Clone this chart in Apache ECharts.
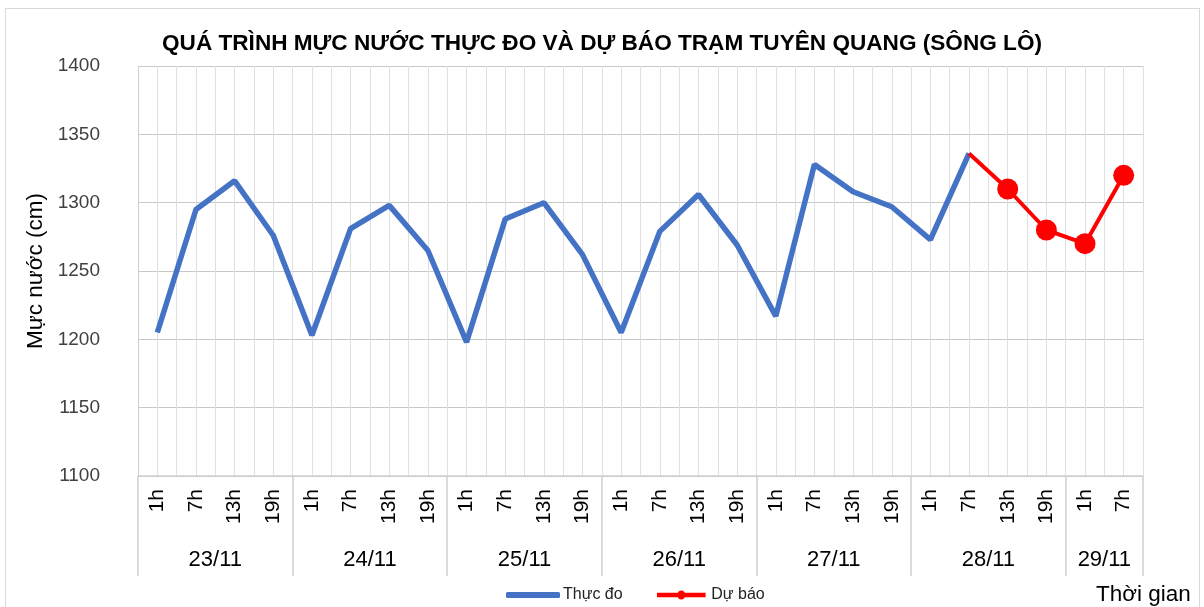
<!DOCTYPE html>
<html><head><meta charset="utf-8">
<script src="https://cdn.jsdelivr.net/npm/echarts@6/dist/echarts.min.js"></script>
<style>
html,body{margin:0;padding:0;background:#fff;}
#frame{position:absolute;left:5px;top:8px;width:1195px;height:620px;border:1px solid #d9d9d9;box-sizing:border-box;}
#main{position:absolute;left:0;top:0;width:1204px;height:607px;}
</style></head>
<body><div id="frame"></div><div id="main"></div>
<script>
const titleText = 'QUÁ TRÌNH MỰC NƯỚC THỰC ĐO VÀ DỰ BÁO TRẠM TUYÊN QUANG (SÔNG LÔ)';
const hours = ['1h','7h','13h','19h','1h','7h','13h','19h','1h','7h','13h','19h','1h','7h','13h','19h','1h','7h','13h','19h','1h','7h','13h','19h','1h','7h'];
const dates = ['23/11','24/11','25/11','26/11','27/11','28/11','29/11'];
const dateSpans = [4,4,4,4,4,4,2];
const observed = [1205,1295,1316,1276,1203,1281,1298,1265,1198,1288,1300,1262,1205,1279,1306,1269,1217,1328,1308,1297,1273,1336];
const forecast = [1336,1310,1280,1270,1320];
const forecastStart = 21;
const yTicks = [1100,1150,1200,1250,1300,1350,1400];

const bounds = [0];
dateSpans.forEach(s => bounds.push(bounds[bounds.length-1] + s));
const centres = dates.map((d,i) => (bounds[i] + bounds[i+1]) / 2);

const obsData = hours.map((h,i) => i < observed.length ? observed[i] : null);
const fcData = hours.map((h,i) => {
  const k = i - forecastStart;
  if (k < 0 || k >= forecast.length) return null;
  return k === 0 ? {value: forecast[k], symbol: 'none'} : forecast[k];
});

const FONT = 'Liberation Sans';
const legendText = {fontSize: 16, color: '#222', fontFamily: FONT, padding: [0,0,0,-2]};
const chart = echarts.init(document.getElementById('main'));
chart.setOption({
  animation: false,
  textStyle: {fontFamily: FONT},
  title: [
    {text: titleText, left: 'center', top: 27, textStyle: {fontSize: 22.6, fontWeight: 'bold', color: '#000', fontFamily: FONT}},
    {text: 'Thời gian', left: 1091, top: 578, textStyle: {fontSize: 22.5, fontWeight: 'normal', color: '#000', fontFamily: FONT}}
  ],
  legend: [
    {
      left: 501, top: 582, itemWidth: 54, itemHeight: 6, textStyle: legendText,
      data: [{name: 'Thực đo', icon: 'roundRect', itemStyle: {color: '#4472C4'}}]
    },
    {
      left: 652, top: 582, itemWidth: 54, itemHeight: 9, textStyle: legendText,
      data: [{name: 'Dự báo', icon: 'path://M0,2.5 L54,2.5 L54,7.5 L0,7.5 Z M22.5,5 A4.5,5 0 1 1 31.5,5 A4.5,5 0 1 1 22.5,5 Z', itemStyle: {color: '#FF0000'}}]
    }
  ],
  grid: {left: 138, right: 61, top: 66, bottom: 131},
  xAxis: [
    {
      type: 'category', data: hours, boundaryGap: true,
      axisLine: {show: true, lineStyle: {color: '#d0d0d0', width: 1.5}},
      axisTick: {show: false},
      axisLabel: {rotate: 90, fontSize: 21, color: '#000', margin: 13, interval: 0, fontFamily: FONT},
      splitLine: {show: false}
    },
    {
      type: 'value', min: 0, max: bounds[bounds.length-1], position: 'bottom',
      axisLine: {show: false},
      axisTick: {show: true, customValues: bounds, length: 100, lineStyle: {color: '#d0d0d0', width: 1.5}},
      axisLabel: {show: true, customValues: centres, fontSize: 22, color: '#000', margin: 73, fontFamily: FONT,
        formatter: v => { const i = centres.indexOf(v); return i >= 0 ? dates[i] : ''; }},
      splitLine: {show: false}
    },
    {
      type: 'value', min: 0, max: bounds[bounds.length-1], interval: 0.5, position: 'bottom',
      axisLine: {show: false}, axisTick: {show: false}, axisLabel: {show: false},
      splitLine: {show: true, lineStyle: {color: '#e0e0e0', width: 1}}
    }
  ],
  yAxis: {
    type: 'value', min: yTicks[0], max: yTicks[yTicks.length-1], interval: 50,
    name: 'Mực nước (cm)', nameLocation: 'middle', nameGap: 90,
    nameTextStyle: {fontSize: 22.5, color: '#000', fontFamily: FONT},
    axisLine: {show: true, lineStyle: {color: '#d0d0d0'}},
    axisTick: {show: false},
    axisLabel: {fontSize: 19, color: '#404040', margin: 38, fontFamily: FONT, formatter: v => String(v)},
    splitLine: {show: true, lineStyle: {color: '#c8c8c8', width: 1}}
  },
  series: [
    {
      name: 'Thực đo', type: 'line', xAxisIndex: 0, data: obsData,
      symbol: 'none', lineStyle: {color: '#4472C4', width: 5.5}, itemStyle: {color: '#4472C4'}, z: 3
    },
    {
      name: 'Dự báo', type: 'line', xAxisIndex: 0, data: fcData,
      symbol: 'circle', symbolSize: 21, showSymbol: true,
      lineStyle: {color: '#FF0000', width: 4}, itemStyle: {color: '#FF0000'}, z: 4
    }
  ]
});
</script></body></html>
